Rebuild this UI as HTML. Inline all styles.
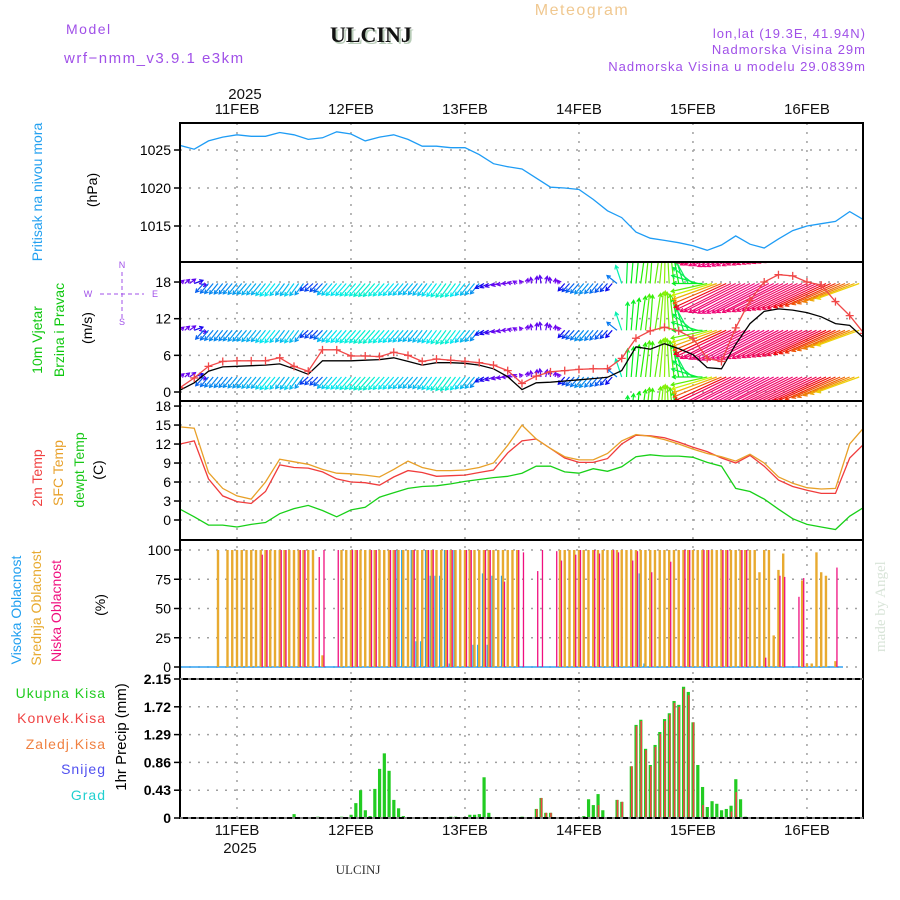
<!DOCTYPE html>
<html><head><meta charset="utf-8"><style>
html,body{margin:0;padding:0;background:#fff;}
svg{display:block;font-family:"Liberation Sans",sans-serif;}
</style></head><body>
<svg id="chart" width="900" height="900" viewBox="0 0 900 900" xmlns="http://www.w3.org/2000/svg">
<defs>
<clipPath id="cWind"><rect x="180" y="262" width="683" height="139"/></clipPath>
<clipPath id="cPlot"><rect x="180" y="123" width="683" height="695"/></clipPath>
</defs>
<text x="66" y="34" font-size="14" fill="#a050e8" letter-spacing="1.5">Model</text>
<text x="64" y="63" font-size="15" fill="#a050e8" letter-spacing="1.5">wrf−nmm_v3.9.1 e3km</text>
<text x="332" y="44" font-family="Liberation Serif,serif" font-weight="bold" font-size="22" fill="#b8ccb8">ULCINJ</text>
<text x="330" y="42" font-family="Liberation Serif,serif" font-weight="bold" font-size="22" fill="#111">ULCINJ</text>
<text x="582" y="15" text-anchor="middle" font-size="16" fill="#f0c890" letter-spacing="1.5">Meteogram</text>
<text x="866" y="38" text-anchor="end" font-size="13" fill="#a050e8" letter-spacing="1">lon,lat (19.3E, 41.94N)</text>
<text x="866" y="54" text-anchor="end" font-size="13" fill="#a050e8" letter-spacing="1">Nadmorska Visina 29m</text>
<text x="866" y="71" text-anchor="end" font-size="13" fill="#a050e8" letter-spacing="1">Nadmorska Visina u modelu 29.0839m</text>
<text transform="translate(885,652) rotate(-90)" font-family="Liberation Serif,serif" font-size="15" fill="#d8e4d8">made by Angel</text>
<text x="358" y="874" text-anchor="middle" font-family="Liberation Serif,serif" font-size="13" fill="#333">ULCINJ</text>
<g id="g"></g>
</svg>
<script>
// ---------- data ----------
const hours3 = [0,3,6,9,12,15,18,21,24,27,30,33,36,39,42,45,48,51,54,57,60,63,66,69,72,75,78,81,84,87,90,93,96,99,102,105,108,111,114,117,120,123,126,129,132,135,138,141,144];
const pressure = [1025.6,1025.1,1026.2,1026.7,1027.0,1026.8,1026.8,1027.3,1027.0,1026.4,1026.6,1027.4,1027.1,1026.2,1026.7,1027.0,1026.4,1025.5,1025.5,1025.3,1025.3,1024.4,1023.2,1022.8,1022.5,1021.3,1020.1,1020.0,1019.8,1018.5,1017.0,1016.1,1014.2,1013.4,1013.1,1012.8,1012.4,1011.8,1012.5,1013.7,1012.6,1012.1,1013.3,1014.4,1015.0,1015.3,1015.6,1016.9,1015.8];
const temp2m = [12.0,12.5,6.5,3.8,2.9,2.6,4.5,8.7,8.3,8.2,7.6,6.5,6.0,5.9,5.5,6.8,7.8,7.5,6.9,7.0,7.1,7.5,7.9,10.6,12.5,12.8,11.3,9.8,9.1,9.1,9.7,12.0,13.4,13.3,13.0,12.3,11.5,10.8,9.8,9.0,10.2,8.5,6.3,5.3,4.7,4.2,4.2,9.8,12.0];
const tempSfc = [14.7,14.5,7.5,5.0,3.8,3.3,6.0,9.6,9.2,8.8,8.0,7.4,7.3,7.1,6.8,8.0,9.3,8.3,7.8,7.8,7.9,8.3,9.0,11.8,15.0,12.8,11.3,10.0,9.5,9.5,10.5,12.5,13.5,13.2,12.7,12.0,11.2,10.5,10.0,9.3,10.4,9.0,6.8,5.8,5.1,4.9,5.0,12.0,14.6];
const dewpt = [1.7,0.5,-0.8,-0.8,-1.1,-0.7,-0.4,1.0,1.8,2.3,1.5,0.5,1.6,2.0,3.6,4.3,5.0,5.3,5.4,5.7,6.1,6.4,6.7,6.9,7.4,8.5,8.5,7.6,7.4,8.1,7.7,8.4,10.0,10.3,10.1,10.1,9.9,9.1,8.5,5.0,4.5,3.3,1.7,0.2,-0.7,-1.1,-1.5,0.6,2.0];
const gust = [0.7,2.3,4.2,5.0,5.1,5.1,5.1,5.6,4.2,3.4,6.9,6.9,5.9,5.9,5.8,6.5,6.0,5.0,5.4,5.2,5.0,4.8,4.4,3.5,1.4,2.6,3.3,3.5,3.7,3.8,3.8,5.5,8.8,10.0,10.6,10.0,8.8,5.5,5.0,10.5,15.0,18.0,19.2,19.0,18.0,17.5,14.8,12.5,9.6];
const windSpeed = [0.3,1.5,3.4,4.1,4.2,4.3,4.4,4.6,3.8,2.9,5.1,5.1,5.1,5.2,5.3,5.6,5.0,4.4,4.8,4.8,4.7,4.4,3.8,2.5,0.4,1.5,1.6,1.8,2.0,2.2,2.4,3.5,7.4,7.0,7.9,7.1,6.1,4.0,3.8,7.8,11.2,13.2,13.6,13.4,13.0,12.3,11.2,10.9,8.8];
const windU = [1.0,1.2,1.5,2.2,2.0,
-2.0,-2.0,-2.1,-2.1,-2.1,-2.1,-2.2,-2.2,-2.2,-2.3,-2.3,-2.3,-2.3,
-2.4,-2.5,-2.5,-2.4,
-2.2,-2.2,-2.3,-2.2,-2.1,
-2.0,-2.0,-1.9,-2.1,
-2.4,-2.5,-2.6,-2.6,-2.6,-2.7,-2.7,-2.7,-2.8,-2.8,-2.8,-2.7,-2.7,-2.6,-2.6,-2.5,-2.5,-2.4,
-2.4,-2.3,-2.3,-2.3,-2.4,-2.4,-2.5,-2.5,-2.5,-2.5,-2.4,-2.4,-2.3,-2.3,-2.2,
-2.2,-2.1,-2.0,
-1.6,-1.5,-1.4,-1.2,
-1.0,-0.6,
0.3,-0.2,0.2,-0.3,0.4,-0.2,0.1,-0.6,
-1.6,-1.8,-2.0,-2.1,-2.2,-2.2,-2.1,-2.0,-1.9,-1.8,-1.6,
-2.5,-1.5,0.3,0.6,
0.8,1.2,1.0,0.6,1.4,0.9,0.2,-0.5,-1.0,-1.5,-2.0,
-3.0,-5.0,-6.5,-7.5,
-9,-10,-11,-12,-13,
-13.6,-13.8,-14,-14,-14.2,-14.2,-14.3,-14.3,-14.2,-14.2,-14,-14,-13.9,-13.9,-13.8,
-13.8,-13.7,-13.6,-13.5,-13.4,
-13,-12.8,-12.5,
-12,-11.8,-11.5,
-11,-10.5];
const windV = [0.8,1.0,1.1,0.8,-0.5,
-2.2,-2.4,-2.5,-2.6,-2.6,-2.6,-2.6,-2.7,-2.7,-2.7,-2.8,-2.8,-2.8,
-3.0,-3.1,-3.1,-3.0,
-2.9,-3.0,-3.1,-3.0,-2.8,
-1.8,-1.9,-2.0,-2.2,
-2.8,-2.9,-3.0,-3.0,-3.0,-3.1,-3.1,-3.1,-3.2,-3.2,-3.2,-3.1,-3.1,-3.0,-3.0,-2.9,-2.9,-2.8,
-2.8,-2.8,-2.9,-3.0,-3.1,-3.2,-3.3,-3.4,-3.4,-3.3,-3.2,-3.0,-2.9,-2.8,-2.6,
-1.2,-1.0,-0.8,
-0.5,-0.3,0.0,0.3,
0.6,0.8,
1.2,1.5,1.8,2.0,1.8,1.5,1.2,0.8,
-1.8,-2.0,-2.2,-2.4,-2.6,-2.6,-2.5,-2.4,-2.2,-2.0,-1.8,
2.0,4.5,7.0,7.5,
8.0,8.5,9.0,8.8,9.2,9.5,9.8,9.5,9.0,8.0,6.5,
5.5,4.0,2.0,0.0,
-2,-3,-4,-5,-6,
-6.5,-7,-7,-7.2,-7.2,-7.4,-7.4,-7.4,-7.3,-7.2,-7.2,-7.0,-7.0,-6.9,-6.8,
-6.7,-6.6,-6.5,-6.4,-6.3,
-6,-5.8,-5.6,
-5.2,-5,-4.6,
-4.2,-3.8];
const arrowRows = [-5.2, 2.45, 10.1, 17.75, 25.4];
const lowCloud = {17:96,18:100,21:100,22:100,25:100,26:100,29:94,30:100,33:100,36:100,37:100,40:100,41:100,44:100,45:100,49:100,52:100,53:100,56:100,57:100,60:100,61:100,64:100,65:100,68:73,71:100,72:98,75:82,76:100,79:99,80:91,83:96,84:100,87:100,88:97,91:100,92:98,95:91,96:99,99:81,103:90,106:100,107:100,110:100,111:100,114:100,115:100,118:100,119:100,123:8,126:78,127:77,130:60,131:76,138:85};
const highCloud = {46:100,47:100,49:100,50:22,51:22,52:100,53:78,54:78,55:78,56:100,57:3,58:100,62:19,63:19,64:80,65:19,66:78,68:78,97:80,98:3};
const midCloudSpecial = {8:100,30:10,122:81,125:27,126:83,127:97,131:74,132:3,133:3,134:98,135:81,136:78,138:5};
const midCloudRanges = [[10,28],[34,71],[80,121],[123,124]];
const precipHours = [24,29,34,36,37,38,39,40,41,42,43,44,45,46,47,57,58,61,62,63,64,65,72,75,76,77,78,85,86,87,88,89,92,93,95,96,97,98,99,100,101,102,103,104,105,106,107,108,109,110,111,112,113,114,115,116,117,118,119];
const precipTotal = [0.06,0.02,0.02,0.05,0.23,0.43,0.12,0.03,0.45,0.76,1.0,0.73,0.28,0.15,0.03,0.02,0.02,0.05,0.05,0.06,0.63,0.08,0.02,0.14,0.31,0.08,0.08,0.03,0.29,0.2,0.37,0.12,0.28,0.25,0.8,1.44,1.52,1.07,0.82,1.13,1.33,1.53,1.62,1.81,1.75,2.03,1.95,1.48,0.82,0.48,0.17,0.26,0.22,0.12,0.14,0.19,0.6,0.29,0.02];
const precipConv = [0,0,0,0,0,0,0,0,0,0,0,0,0,0,0,0,0,0,0,0,0,0,0,0.14,0.31,0.08,0.08,0,0,0,0.2,0,0.28,0.25,0.8,1.42,1.5,1.05,0.8,1.1,1.3,1.5,1.6,1.78,1.72,2.0,1.9,1.48,0,0.2,0,0,0,0,0,0.1,0.4,0,0];
const pressureTicks = [1015,1020,1025];
const windTicks = [0,6,12,18];
const tempTicks = [0,3,6,9,12,15,18];
const cloudTicks = [0,25,50,75,100];
const precipTicks = [0,0.43,0.86,1.29,1.72,2.15];
const dayLabels = ["11FEB","12FEB","13FEB","14FEB","15FEB","16FEB"];
const dayHours = [12,36,60,84,108,132];

// ---------- scales ----------
const X0=180, X1=863, HMAX=143.8;
const x = h => X0 + h*(X1-X0)/HMAX;
const yP = v => 150 - (v-1025)*7.6;
const yW = v => 392 - v*6.11;
const yT = v => 520 - v*6.33;
const yC = v => 667 - v*1.17;
const yR = v => 818 - v*64.65;
const NS="http://www.w3.org/2000/svg";
const G=document.getElementById('g');
function el(tag, attrs, parent){const e=document.createElementNS(NS,tag);for(const k in attrs)e.setAttribute(k,attrs[k]);(parent||G).appendChild(e);return e;}
function txt(s, attrs, parent){const e=el('text',attrs,parent);e.textContent=s;return e;}

const panels=[[123,262],[262,401],[401,540],[540,679],[679,818]];
// grid
const grid=el('g',{});


dayHours.forEach(h=>{const l=el('line',{x1:x(h),x2:x(h),y1:123,y2:818,stroke:'#a0a0a0','stroke-width':1.5,'stroke-dasharray':'2,7'},grid);});
function hgrid(ticks, f, name){ticks.forEach(t=>{const l=el('line',{x1:X0,x2:X1,y1:f(t),y2:f(t),stroke:'#a0a0a0','stroke-width':1.5,'stroke-dasharray':'2,7'},grid);});}
hgrid(pressureTicks,yP,'pressure-gridline');hgrid(windTicks,yW,'wind-gridline');hgrid(tempTicks,yT,'temp-gridline');hgrid(cloudTicks,yC,'cloud-gridline');hgrid(precipTicks.slice(1),yR,'precip-gridline');

// tick labels
function yticks(ticks,f,fmt,name){ticks.forEach(t=>{const y=f(t);const tk=el('line',{x1:X0-6,x2:X0,y1:y,y2:y,stroke:'#000','stroke-width':1.5});const lb=txt(fmt(t),{x:X0-9,y:y+5,'text-anchor':'end','font-size':14,fill:'#000'});});}
yticks(pressureTicks,yP,String,'pressure');yticks(windTicks,yW,String,'wind');yticks(tempTicks,yT,String,'temp');yticks(cloudTicks,yC,String,'cloud');
precipTicks.forEach(t=>{const y=yR(t);const tk=el('line',{x1:X0-6,x2:X0,y1:y,y2:y,stroke:'#000','stroke-width':1.5});const lb=txt(t===0?'0':t.toFixed(2),{x:X0-9,y:y+5,'text-anchor':'end','font-size':14,'font-weight':'bold',fill:'#000'});});

// x labels
dayHours.forEach((h,i)=>{const a=txt(dayLabels[i],{x:x(h),y:114,'text-anchor':'middle','font-size':15,fill:'#111'});
const b=txt(dayLabels[i],{x:x(h),y:835,'text-anchor':'middle','font-size':15,fill:'#111'});});
const yr1=txt('2025',{x:x(12)+8,y:99,'text-anchor':'middle','font-size':15,fill:'#111'});
const yr2=txt('2025',{x:x(12)+3,y:853,'text-anchor':'middle','font-size':15,fill:'#111'});

// line helper
function line(vals,f,color,name,w,parent){const d=vals.map((v,i)=>(i?'L':'M')+x(hours3[i]).toFixed(1)+','+f(v).toFixed(1)).join('');const p=el('path',{d:d,fill:'none',stroke:color,'stroke-width':w||1.3},parent);return p;}
const clipG=el('g',{'clip-path':'url(#cPlot)'});
line(pressure,yP,'#1e9cf5','pressure-line',1.3,clipG);
line(temp2m,yT,'#f03c3c','temp-2m-line',1.3,clipG);
line(tempSfc,yT,'#e8a028','temp-sfc-line',1.3,clipG);
line(dewpt,yT,'#18d018','dewpoint-line',1.3,clipG);

// wind arrows
const wg=el('g',{'clip-path':'url(#cWind)'});


function hueFor(m){const st=[[0,275],[2,262],[2.8,222],[3.4,205],[3.8,190],[4.2,172],[6,145],[8.5,115],[10,80],[11,55],[12.5,30],[14,5],[15,-20],[16.5,-35]];for(let i=1;i<st.length;i++){if(m<=st[i][0]){const a=st[i-1],b=st[i];const t=(m-a[0])/(b[0]-a[0]);return a[1]+t*(b[1]-a[1]);}}return -35;}
const S=4;
arrowRows.forEach(r=>{const by=yW(r);windU.forEach((u,h)=>{const v=windV[h];const bx=x(h);const dx=u*S,dy=-v*S;const tx=bx+dx,ty=by+dy;const m=Math.hypot(u,v);const col='hsl('+((hueFor(m)+360)%360)+',95%,48%)';const len=Math.hypot(dx,dy)||1;const ux=dx/len,uy=dy/len;const hl=4;
const a=el('path',{d:`M${bx.toFixed(1)},${by.toFixed(1)}L${tx.toFixed(1)},${ty.toFixed(1)}M${(tx-hl*(ux*0.87-uy*0.5)).toFixed(1)},${(ty-hl*(uy*0.87+ux*0.5)).toFixed(1)}L${tx.toFixed(1)},${ty.toFixed(1)}L${(tx-hl*(ux*0.87+uy*0.5)).toFixed(1)},${(ty-hl*(uy*0.87-ux*0.5)).toFixed(1)}`,stroke:col,'stroke-width':1.2,fill:'none'},wg);

});});
line(windSpeed,yW,'#000','wind-speed-line',1.3,wg);
line(gust,yW,'#f04848','wind-gust-line',1.3,wg);
gust.forEach((v,i)=>{const px=x(hours3[i]),py=yW(v);const mk=el('path',{d:`M${px-4},${py}h8M${px},${py-4}v8`,stroke:'#f04848','stroke-width':1.3},wg);});

// clouds
const cg=el('g',{});


const baseLine=el('line',{x1:X0,x2:X1-20,y1:yC(0),y2:yC(0),stroke:'#30a0f0','stroke-width':1.5},cg);


function cbar(h,v,color,w,off,name){const r=el('rect',{x:x(h)+off-w/2,y:yC(v),width:w,height:Math.max(0,yC(0)-yC(v)),fill:color},cg);}
Object.keys(highCloud).forEach(h=>cbar(+h,highCloud[h],'#12a0f0',2.2,-1,'high-cloud-bar'));
midCloudRanges.forEach(([a,b])=>{for(let h=a;h<=b;h++)cbar(h,100,'#e8aa30',2.4,0,'mid-cloud-bar');});
Object.keys(midCloudSpecial).forEach(h=>cbar(+h,midCloudSpecial[h],'#e8aa30',2.4,0,'mid-cloud-bar'));
Object.keys(lowCloud).forEach(h=>cbar(+h,lowCloud[h],'#f0107f',1.3,1.5,'low-cloud-bar'));

// precip
const pg=el('g',{});


precipHours.forEach((h,i)=>{const v=precipTotal[i];const r=el('rect',{x:x(h)-1.5,y:yR(v),width:3.2,height:yR(0)-yR(v),fill:'#22cc22'},pg);
const c=precipConv[i];if(c>0){const r2=el('rect',{x:x(h)-0.3,y:yR(c),width:1.6,height:yR(0)-yR(c),fill:'#f04444'},pg);}});

// frames
panels.forEach(([a,b],i)=>{const r=el('rect',{x:X0,y:a,width:X1-X0,height:b-a,fill:'none',stroke:'#000','stroke-width':2});});
const dash1=el('line',{x1:X0,x2:X1,y1:679,y2:679,stroke:'#fff','stroke-width':1,'stroke-dasharray':'3,5'});
const dash2=el('line',{x1:X0,x2:X1,y1:818,y2:818,stroke:'#fff','stroke-width':1,'stroke-dasharray':'3,5'});

// left labels
function vlabel(s,cx,cy,color,name,size){const t=txt(s,{transform:`translate(${cx},${cy}) rotate(-90)`,'text-anchor':'middle','font-size':size||14,fill:color});return t;}
vlabel('Pritisak na nivou mora',42,192,'#22a0f0','pressure-axis-title');
vlabel('(hPa)',97,190,'#000','pressure-unit');
vlabel('10m Vjetar',42,340,'#10c810','wind-axis-title-1');
vlabel('Brzina i Pravac',64,330,'#10c810','wind-axis-title-2');
vlabel('(m/s)',92,328,'#000','wind-unit');
vlabel('2m Temp',42,478,'#f04040','temp-2m-title');
vlabel('SFC Temp',63,473,'#e8a028','temp-sfc-title');
vlabel('dewpt Temp',84,470,'#18c818','dewpoint-title');
vlabel('(C)',103,470,'#000','temp-unit');
vlabel('Visoka Oblacnost',21,610,'#22a0f0','high-cloud-title');
vlabel('Srednja Oblacnost',41,608,'#e8aa30','mid-cloud-title');
vlabel('Niska Oblacnost',61,611,'#f0107f','low-cloud-title');
vlabel('(%)',105,605,'#000','cloud-unit');
vlabel('1hr Precip (mm)',126,737,'#000','precip-axis-title',15);
// compass
const cp=[['N',122,268],['W',88,297],['E',155,297],['S',122,325]];
cp.forEach(c=>{const t=txt(c[0],{x:c[1],y:c[2],'text-anchor':'middle','font-size':9,fill:'#a050e8'});});
const cl=el('path',{d:'M122,272v46M100,294h44',stroke:'#a050e8','stroke-width':1,'stroke-dasharray':'4,3'});
// precip legend
[['Ukupna Kisa','#22cc22',698],['Konvek.Kisa','#f04444',723],['Zaledj.Kisa','#f08040',749],['Snijeg','#5050f0',774],['Grad','#20d0d0',800]].forEach(l=>{const t=txt(l[0],{x:106,y:l[2],'text-anchor':'end','font-size':14,fill:l[1],'letter-spacing':1});});
</script>
</body></html>
